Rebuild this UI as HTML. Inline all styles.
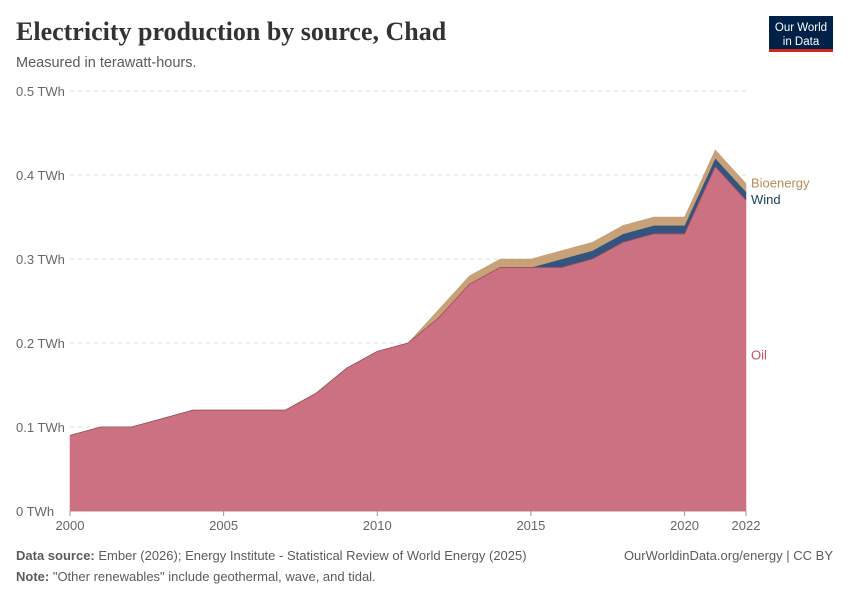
<!DOCTYPE html>
<html><head><meta charset="utf-8"><style>
body{margin:0;background:#fff;font-family:"Liberation Sans",sans-serif;}
</style></head><body>
<svg width="850" height="600" xmlns="http://www.w3.org/2000/svg">
<text x="16" y="40" font-family="Liberation Serif" font-size="26" font-weight="bold" fill="#333">Electricity production by source, Chad</text>
<text x="16" y="67" font-size="14.5" fill="#5b5b5b">Measured in terawatt-hours.</text>
<g>
<rect x="769" y="16" width="64" height="36" fill="#002147"/>
<rect x="769" y="49" width="64" height="3" fill="#ce261e"/>
<text x="801" y="31" font-size="11.5" fill="#fff" text-anchor="middle">Our World</text>
<text x="801" y="45" font-size="11.5" fill="#fff" text-anchor="middle">in Data</text>
</g>
<g id="grid"></g>
<g id="areas"></g>
<g id="xaxis"></g>
<text x="16" y="560" font-size="13" fill="#5b5b5b"><tspan font-weight="bold">Data source:</tspan> Ember (2026); Energy Institute - Statistical Review of World Energy (2025)</text>
<text x="833" y="560" font-size="13" fill="#5b5b5b" text-anchor="end">OurWorldinData.org/energy | CC BY</text>
<text x="16" y="581" font-size="13" fill="#5b5b5b"><tspan font-weight="bold">Note:</tspan> "Other renewables" include geothermal, wave, and tidal.</text>
</svg>
<script>
const years=[2000,2001,2002,2003,2004,2005,2006,2007,2008,2009,2010,2011,2012,2013,2014,2015,2016,2017,2018,2019,2020,2021,2022];
const oil=[0.09,0.10,0.10,0.11,0.12,0.12,0.12,0.12,0.14,0.17,0.19,0.20,0.23,0.27,0.29,0.29,0.29,0.30,0.32,0.33,0.33,0.41,0.37];
const wind=[0,0,0,0,0,0,0,0,0,0,0,0,0,0,0,0,0.01,0.01,0.01,0.01,0.01,0.01,0.01];
const bio=[0,0,0,0,0,0,0,0,0,0,0,0,0.01,0.01,0.01,0.01,0.01,0.01,0.01,0.01,0.01,0.01,0.01];
const yTicks=[0,0.1,0.2,0.3,0.4,0.5];
const yTickLabels=["0 TWh","0.1 TWh","0.2 TWh","0.3 TWh","0.4 TWh","0.5 TWh"];
const xTicks=[2000,2005,2010,2015,2020,2022];
const NS="http://www.w3.org/2000/svg";
const X=y=>70+(y-2000)*(746-70)/22;
const Y=v=>511-v*840;
function mk(t,a,p){const e=document.createElementNS(NS,t);for(const k in a)e.setAttribute(k,a[k]);p.appendChild(e);return e;}
const grid=document.getElementById('grid');
yTicks.forEach((v,i)=>{
 const l=mk('line',{x1:70,x2:746,y1:Y(v),y2:Y(v),stroke:v===0?'#999':'#ddd','stroke-dasharray':v===0?'':'4,4'},grid);
 
 
 const t=mk('text',{x:16,y:Y(v)+5,'font-size':13,fill:'#666'},grid);t.textContent=yTickLabels[i];
 
 
});
const areas=document.getElementById('areas');
const base=years.map(()=>0),s1=oil.slice(),s2=oil.map((v,i)=>v+wind[i]),s3=s2.map((v,i)=>v+bio[i]);
function area(lo,hi,fill,name){
 let d='M'+years.map((y,i)=>X(y)+','+Y(hi[i])).join('L');
 for(let i=years.length-1;i>=0;i--)d+='L'+X(years[i])+','+Y(lo[i]);
 const p=mk('path',{d:d+'Z',fill:fill,stroke:fill,'stroke-width':0.5},areas);
 
 
}
area(base,s1,'#cc7181','area-oil');
area(s1,s2,'#345480','area-wind');
area(s2,s3,'#c7a279','area-bioenergy');
mk('path',{d:'M'+years.map((y,i)=>X(y)+','+Y(oil[i])).join('L'),fill:'none',stroke:'#9a4d5b','stroke-width':0.8},areas);
const labs=[["Bioenergy",s3[22]+0.0,'#b98a5a'],["Wind",s2[22]-0.01,'#1d3d63'],["Oil",0.185,'#c15065']];
labs.forEach(l=>{const t=mk('text',{x:751,y:Y(l[1])+4,'font-size':13,fill:l[2]},areas);t.textContent=l[0];
 
 });
const xa=document.getElementById('xaxis');
xTicks.forEach(y=>{mk('line',{x1:X(y),x2:X(y),y1:511,y2:516,stroke:'#999'},xa);
 const t=mk('text',{x:X(y),y:530,'font-size':13,fill:'#666','text-anchor':'middle'},xa);t.textContent=y;
 
 });
</script>
</body></html>
